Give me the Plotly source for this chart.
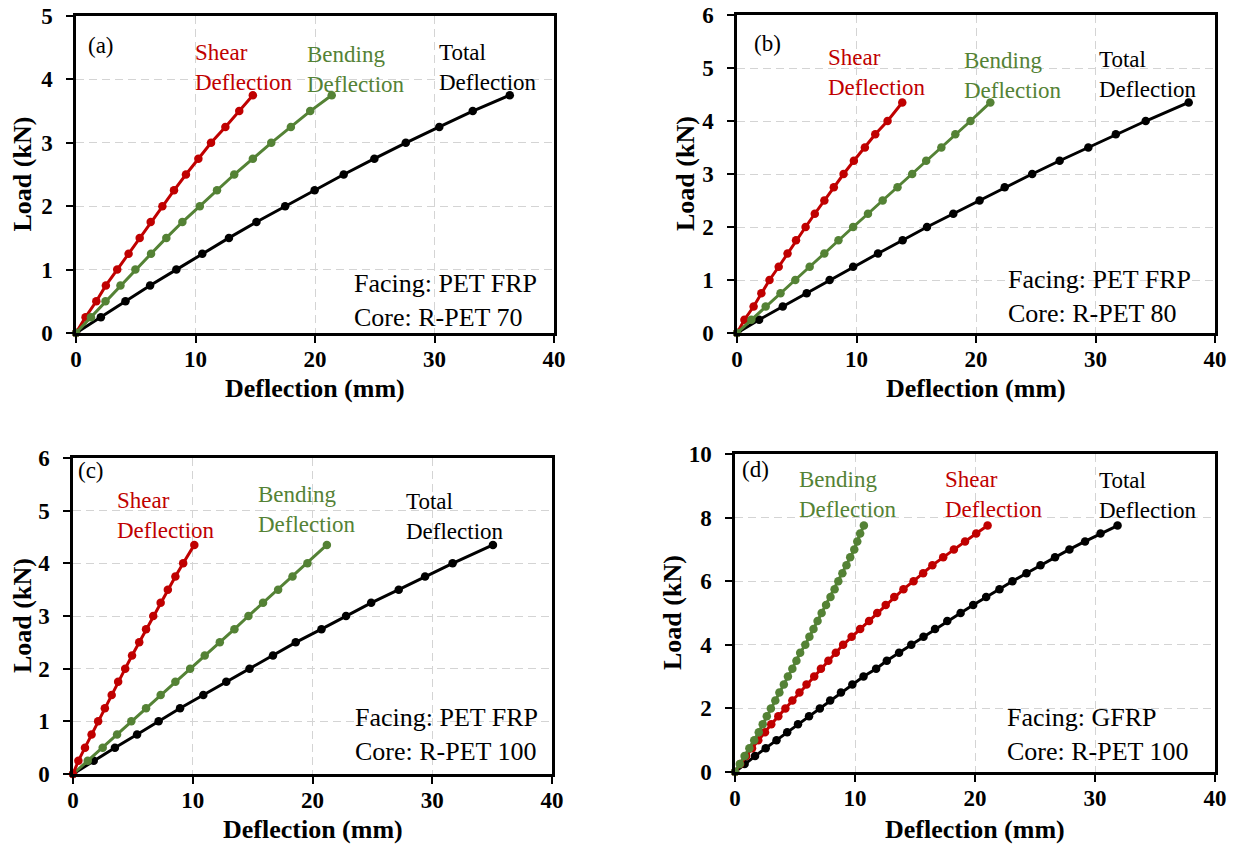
import plotly.graph_objects as go

# ---------------- data ----------------
load_a = [0, 0.25, 0.5, 0.75, 1.0, 1.25, 1.5, 1.75, 2.0, 2.25, 2.5, 2.75, 3.0, 3.25, 3.5, 3.75]
total_a = [0, 2.08, 4.14, 6.2, 8.4, 10.57, 12.8, 15.1, 17.5, 19.97, 22.4, 24.97, 27.6, 30.4, 33.2, 36.3]
shear_a = [0, 0.8, 1.7, 2.5, 3.45, 4.4, 5.33, 6.25, 7.23, 8.2, 9.2, 10.24, 11.3, 12.5, 13.66, 14.8]
bend_a = [0, 1.25, 2.47, 3.72, 4.97, 6.28, 7.56, 8.9, 10.36, 11.8, 13.24, 14.8, 16.34, 17.98, 19.6, 21.4]

load_b = [0, 0.25, 0.5, 0.75, 1.0, 1.25, 1.5, 1.75, 2.0, 2.25, 2.5, 2.75, 3.0, 3.25, 3.5, 3.75, 4.0, 4.35]
total_b = [0, 1.85, 3.83, 5.83, 7.75, 9.72, 11.8, 13.86, 15.9, 18.1, 20.3, 22.4, 24.7, 27.0, 29.4, 31.7, 34.2, 37.8]
shear_b = [0, 0.62, 1.39, 2.04, 2.72, 3.49, 4.23, 4.94, 5.74, 6.51, 7.31, 8.1, 8.92, 9.78, 10.7, 11.57, 12.6, 13.83]
bend_b = [0, 1.2, 2.4, 3.64, 4.88, 6.08, 7.31, 8.49, 9.72, 10.96, 12.19, 13.43, 14.66, 15.83, 17.1, 18.27, 19.54, 21.2]

load_c = [0, 0.25, 0.5, 0.75, 1.0, 1.25, 1.5, 1.75, 2.0, 2.25, 2.5, 2.75, 3.0, 3.25, 3.5, 3.75, 4.0, 4.35]
total_c = [0, 1.73, 3.5, 5.35, 7.15, 8.94, 10.88, 12.8, 14.74, 16.7, 18.6, 20.75, 22.8, 24.9, 27.2, 29.4, 31.7, 35.07]
shear_c = [0, 0.45, 1.0, 1.55, 2.1, 2.66, 3.23, 3.77, 4.36, 4.93, 5.53, 6.1, 6.7, 7.32, 7.92, 8.55, 9.2, 10.13]
bend_c = [0, 1.23, 2.48, 3.68, 4.87, 6.1, 7.32, 8.55, 9.78, 11.0, 12.26, 13.48, 14.65, 15.87, 17.13, 18.33, 19.58, 21.2]

load_d = [0, 0.25, 0.5, 0.75, 1.0, 1.25, 1.5, 1.75, 2.0, 2.25, 2.5, 2.75, 3.0, 3.25, 3.5, 3.75,
          4.0, 4.25, 4.5, 4.75, 5.0, 5.25, 5.5, 5.75, 6.0, 6.25, 6.5, 6.75, 7.0, 7.25, 7.5, 7.75]
total_d = [0, 0.8, 1.67, 2.56, 3.46, 4.35, 5.25, 6.17, 7.07, 7.93, 8.83, 9.78, 10.71, 11.76, 12.65, 13.67,
           14.69, 15.71, 16.67, 17.69, 18.8, 19.85, 20.93, 22.04, 23.12, 24.29, 25.46, 26.67, 27.87, 29.17, 30.46, 31.88]
shear_d = [0, 0.43, 0.93, 1.42, 1.94, 2.5, 3.02, 3.61, 4.2, 4.78, 5.37, 5.96, 6.6, 7.16, 7.78, 8.4,
           9.01, 9.72, 10.43, 11.17, 11.85, 12.56, 13.27, 14.04, 14.88, 15.68, 16.45, 17.35, 18.24, 19.17, 20.1, 21.05]
bend_d = [0, 0.4, 0.8, 1.2, 1.6, 1.98, 2.31, 2.65, 2.99, 3.36, 3.7, 4.07, 4.41, 4.78, 5.12, 5.43,
          5.86, 6.2, 6.54, 6.88, 7.22, 7.59, 7.96, 8.3, 8.61, 8.95, 9.29, 9.6, 9.94, 10.19, 10.43, 10.74]

x_ticks = [0, 10, 20, 30, 40]
y_max = {"a": 5, "b": 6, "c": 6, "d": 10}
y_dtick = {"a": 1, "b": 1, "c": 1, "d": 2}
facing = {"a": "Facing: PET FRP<br>Core: R-PET 70",
          "b": "Facing: PET FRP<br>Core: R-PET 80",
          "c": "Facing: PET FRP<br>Core: R-PET 100",
          "d": "Facing: GFRP<br>Core: R-PET 100"}

RED = "#C00000"
GREEN = "#548235"
BLACK = "#000000"
FONT = "Liberation Serif, Times New Roman, serif"

W, H = 1239, 846
# plot boxes in pixels: (left, right, top, bottom)
boxes = {"a": (76, 554, 16, 333), "b": (737, 1215, 15, 333),
         "c": (73, 552, 458, 774), "d": (735, 1215, 454, 772)}
axnames = {"a": ("x", "y"), "b": ("x2", "y2"), "c": ("x3", "y3"), "d": ("x4", "y4")}

panels = {
    "a": [(total_a, load_a, BLACK), (shear_a, load_a, RED), (bend_a, load_a, GREEN)],
    "b": [(total_b, load_b, BLACK), (shear_b, load_b, RED), (bend_b, load_b, GREEN)],
    "c": [(total_c, load_c, BLACK), (bend_c, load_c, GREEN), (shear_c, load_c, RED)],
    "d": [(total_d, load_d, BLACK), (shear_d, load_d, RED), (bend_d, load_d, GREEN)],
}

fig = go.Figure()
for key, series in panels.items():
    xa, ya = axnames[key]
    for xs, ys, col in series:
        fig.add_trace(go.Scatter(x=xs, y=ys, xaxis=xa, yaxis=ya, mode="lines+markers",
                                 line=dict(color=col, width=3),
                                 marker=dict(color=col, size=8.5),
                                 showlegend=False, hoverinfo="skip", cliponaxis=False))

layout = dict(width=W, height=H, margin=dict(l=0, r=0, t=0, b=0, autoexpand=False),
              paper_bgcolor="white", plot_bgcolor="white", showlegend=False)

for key, (l, r, t, b) in boxes.items():
    xa, ya = axnames[key]
    xk = "xaxis" + xa[1:]
    yk = "yaxis" + ya[1:]
    common = dict(showline=True, linecolor="black", linewidth=2.5, mirror=True,
                  ticks="outside", ticklen=7, tickwidth=1.5, tickcolor="black",
                  showgrid=True, gridcolor="#d4d4d4", griddash="8px,5px", gridwidth=1.2,
                  zeroline=False, automargin=False,
                  tickfont=dict(family=FONT, size=23, color="black", weight="bold"))
    layout[xk] = dict(common, domain=[l / W, r / W], range=[0, 40], tickvals=x_ticks,
                      anchor=ya, ticklabelstandoff=-3)
    layout[yk] = dict(common, domain=[1 - b / H, 1 - t / H], range=[0, y_max[key]],
                      dtick=y_dtick[key], tick0=0, anchor=xa, ticklabelstandoff=9)

fig.update_layout(**layout)

ann = []
def add(text, x, y, xref, yref, color="black", size=20, xanchor="left", yanchor="middle", **kw):
    ann.append(dict(text=text, x=x, y=y, xref=xref, yref=yref, showarrow=False,
                    xanchor=xanchor, yanchor=yanchor, align="left",
                    font=dict(family=FONT, size=size, color=color), **kw))

labels = {
    "a": [("(a)", 0.84, 4.54, BLACK), ("Shear<br>Deflection", 9.79, 4.19, RED),
          ("Bending<br>Deflection", 19.16, 4.15, GREEN), ("Total<br>Deflection", 30.2, 4.18, BLACK)],
    "b": [("(b)", 1.26, 5.47, BLACK), ("Shear<br>Deflection", 7.45, 4.92, RED),
          ("Bending<br>Deflection", 18.8, 4.85, GREEN), ("Total<br>Deflection", 30.1, 4.87, BLACK)],
    "c": [("(c)", 0.25, 5.77, BLACK), ("Shear<br>Deflection", 3.5, 4.9, RED),
          ("Bending<br>Deflection", 15.3, 5.02, GREEN), ("Total<br>Deflection", 27.6, 4.88, BLACK)],
    "d": [("(d)", 0.42, 9.5, BLACK), ("Bending<br>Deflection", 5.17, 8.74, GREEN),
          ("Shear<br>Deflection", 17.3, 8.74, RED), ("Total<br>Deflection", 30.2, 8.71, BLACK)],
}
facing_pos = {"a": (23.1, 0.52), "b": (22.5, 0.68), "c": (23.4, 0.75), "d": (22.5, 1.18)}

for key in boxes:
    xa, ya = axnames[key]
    for text, x, y, col in labels[key]:
        add(text, x, y, xa, ya, color=col, size=23)
    fx, fy = facing_pos[key]
    add(facing[key], fx, fy, xa, ya, size=26)

# axis titles
xtitle_y = {"a": 388, "b": 388, "c": 829, "d": 829}
ytitle_x = {"a": 22, "b": 686, "c": 22, "d": 672}
for key, (l, r, t, b) in boxes.items():
    add("<b>Deflection (mm)</b>", ((l + r) / 2) / W, 1 - xtitle_y[key] / H, "paper", "paper",
        size=26, xanchor="center")
    add("<b>Load (kN)</b>", ytitle_x[key] / W, 1 - ((t + b) / 2) / H, "paper", "paper",
        size=26, xanchor="center", textangle=-90)

fig.update_layout(annotations=ann)
fig.write_html("out.html")
